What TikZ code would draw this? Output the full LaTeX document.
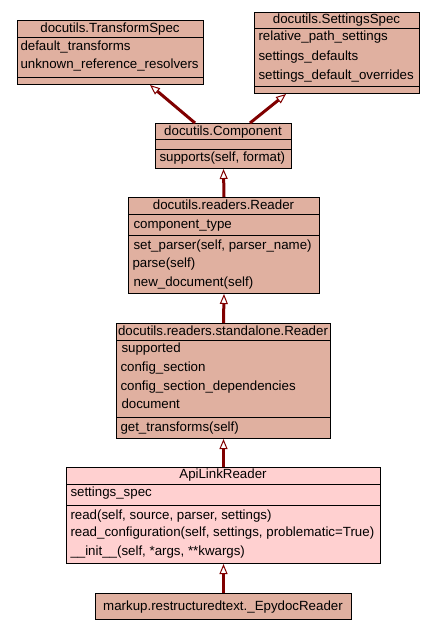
\documentclass[tikz,border=0pt]{standalone}
\usepackage{fontspec}
\setmainfont{Liberation Sans}
\usetikzlibrary{arrows.meta}
\definecolor{basefill}{HTML}{E0B0A0}
\definecolor{selfill}{HTML}{FFD0D0}
\definecolor{inhlink}{HTML}{800000}

\begin{document}
\begin{tikzpicture}[x=1pt,y=-1pt,line width=1pt,
  font=\fontsize{13.3}{16}\selectfont,
  classbox/.style={draw,anchor=north west,inner sep=0pt},
  member/.style={anchor=base west,inner sep=0pt},
  clsname/.style={anchor=base,inner sep=0pt},
  inherit/.style={draw=inhlink,line width=3pt,
    -{Triangle[length=10pt,width=8pt,line width=1pt,fill=white]}}]
\useasboundingbox (0,0) rectangle (435,629);

% docutils.TransformSpec
\node[classbox,fill=basefill,minimum width=186pt,minimum height=64pt] (tspec) at (17,20) {};
\draw (17,37) -- (203,37);
\draw (17,77) -- (203,77);
\node[clsname] (tspecname) at (110,32) {docutils.TransformSpec};
\node[member] (tspecA) at (20,50.7) {default\_transforms};
\node[member] (tspecB) at (20,68.3) {unknown\_reference\_resolvers};

% docutils.SettingsSpec
\node[classbox,fill=basefill,minimum width=165pt,minimum height=81pt] (sspec) at (254,12) {};
\draw (254,28) -- (419,28);
\draw (254,86) -- (419,86);
\node[clsname] (sspecname) at (336.5,23.5) {docutils.SettingsSpec};
\node[member] (sspecA) at (258,40.7) {relative\_path\_settings};
\node[member] (sspecB) at (258,60) {settings\_defaults};
\node[member] (sspecC) at (258,79) {settings\_default\_overrides};

% docutils.Component
\node[classbox,fill=basefill,minimum width=136pt,minimum height=45pt] (comp) at (155,123) {};
\draw (155,139) -- (291,139);
\draw (155,149) -- (291,149);
\node[clsname] (compname) at (223,135) {docutils.Component};
\node[member] (compM) at (159,161) {supports(self, format)};

% docutils.readers.Reader
\node[classbox,fill=basefill,minimum width=191pt,minimum height=96pt] (reader) at (128,197) {};
\draw (128,214) -- (319,214);
\draw (128,235) -- (319,235);
\node[clsname] (readername) at (223.5,209) {docutils.readers.Reader};
\node[member] (readerA) at (133,228.3) {component\_type};
\node[member] (readerM1) at (133,249.3) {set\_parser(self, parser\_name)};
\node[member] (readerM2) at (132,267.7) {parse(self)};
\node[member] (readerM3) at (133,286.7) {new\_document(self)};

% docutils.readers.standalone.Reader
\node[classbox,fill=basefill,minimum width=214pt,minimum height=115pt] (sareader) at (116,323) {};
\draw (116,340) -- (330,340);
\draw (116,417) -- (330,417);
\node[clsname] (sareadername) at (223,335) {docutils.readers.standalone.Reader};
\node[member] (sareaderA) at (121,352.7) {supported};
\node[member] (sareaderB) at (120,371.7) {config\_section};
\node[member] (sareaderC) at (120,390.7) {config\_section\_dependencies};
\node[member] (sareaderD) at (121,408.3) {document};
\node[member] (sareaderM) at (120,431) {get\_transforms(self)};

% ApiLinkReader
\node[classbox,fill=selfill,minimum width=314pt,minimum height=96pt] (apireader) at (66,467) {};
\draw (66,484) -- (380,484);
\draw (66,505) -- (380,505);
\node[clsname] (apireadername) at (223,478.3) {ApiLinkReader};
\node[member] (apireaderA) at (70,496.7) {settings\_spec};
\node[member] (apireaderM1) at (70,519.3) {read(self, source, parser, settings)};
\node[member] (apireaderM2) at (70,536.7) {read\_configuration(self, settings, problematic=True)};
\node[member] (apireaderM3) at (70,555.7) {\_\_init\_\_(self, *args, **kwargs)};

% markup.restructuredtext._EpydocReader
\node[classbox,fill=basefill,minimum width=256pt,minimum height=26pt] (epyreader) at (95,593) {};
\node[clsname] (epyreadername) at (223,610) {markup.restructuredtext.\_EpydocReader};

% inheritance
\draw[inherit] ([xshift=40pt]comp.north west) -- ([xshift=133pt]tspec.south west);
\draw[inherit] ([xshift=95pt]comp.north west) -- ([xshift=32pt]sspec.south west);
\draw[inherit] (reader.north) -- (comp.south);
\draw[inherit] (sareader.north) -- (reader.south);
\draw[inherit] (apireader.north) -- (sareader.south);
\draw[inherit] (epyreader.north) -- (apireader.south);
\end{tikzpicture}
\end{document}
